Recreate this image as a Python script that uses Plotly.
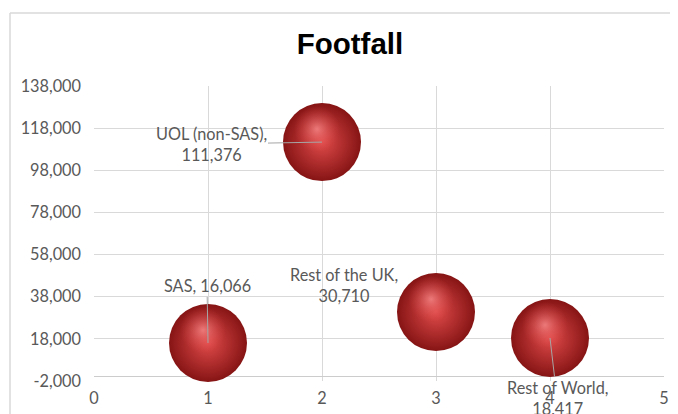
import plotly.graph_objects as go

# ---- data ----
categories = ["SAS", "UOL (non-SAS)", "Rest of the UK", "Rest of World"]
x_vals = [1, 2, 3, 4]
footfall = [16066, 111376, 30710, 18417]
label_lines = ["SAS, 16,066", "UOL (non-SAS),<br>111,376", "Rest of the UK,<br>30,710", "Rest of World,<br>18,417"]

y_tickvals = [-2000, 18000, 38000, 58000, 78000, 98000, 118000, 138000]
y_ticktext = ["-2,000", "18,000", "38,000", "58,000", "78,000", "98,000", "118,000", "138,000"]
x_tickvals = [0, 1, 2, 3, 4, 5]

# ---- layout geometry (page body has an 8px margin, so the figure is offset) ----
OFF = 8
W, H = 678 - OFF, 414 - OFF
ML, MR, MT, MB = 94 - OFF, 14, 86 - OFF, 33
plot_w = W - ML - MR
plot_h = H - MT - MB
x_range = [0, 5]
y_range = [-2000, 138000]
px_per_x = plot_w / (x_range[1] - x_range[0])
px_per_y = plot_h / (y_range[1] - y_range[0])

# highlight offset for the sphere look (in pixels -> data units)
hl_dx = -5 / px_per_x
hl_dy = 13 / px_per_y

fig = go.Figure()

# base sphere
fig.add_trace(go.Scatter(
    x=x_vals, y=footfall, mode="markers",
    marker=dict(size=78, color="#861414",
                gradient=dict(type="radial", color="#e04a4a"),
                line=dict(width=0)),
    cliponaxis=False, hoverinfo="skip", showlegend=False,
))
# specular highlight
fig.add_trace(go.Scatter(
    x=[v + hl_dx for v in x_vals], y=[v + hl_dy for v in footfall], mode="markers",
    marker=dict(size=46, color="rgba(225,75,75,0)",
                gradient=dict(type="radial", color="rgba(255,150,150,0.7)"),
                line=dict(width=0)),
    cliponaxis=False, hoverinfo="skip", showlegend=False,
))

label_font = dict(family="Lato, Carlito, Calibri, sans-serif", size=16.3, color="#595959")
arrow_common = dict(arrowhead=0, arrowwidth=1, arrowcolor="#a6a6a6", showarrow=True,
                    axref="pixel", ayref="pixel")

# SAS label (above, vertical leader line)
fig.add_annotation(x=x_vals[0], y=footfall[0], text=label_lines[0], ax=-1, ay=-57,
                   font=label_font, **arrow_common)
# UOL label (left, horizontal leader line)
fig.add_annotation(x=x_vals[1], y=footfall[1], text=label_lines[1], ax=-111, ay=2,
                   font=label_font, **arrow_common)
# Rest of the UK label (no leader line)
fig.add_annotation(x=x_vals[2], y=footfall[2], text=label_lines[2], showarrow=False,
                   xshift=-92, yshift=27, font=label_font)
# Rest of World label (below, slanted leader line)
fig.add_annotation(x=x_vals[3], y=footfall[3], text=label_lines[3], ax=7, ay=60,
                   font=label_font, **arrow_common)

# outer chart frame (left and top border)
frame_color = "#d9d9d9"
fx0 = (10 - OFF - ML) / plot_w
fy_top = (H - MB - (13 - OFF)) / plot_h
fig.add_shape(type="line", xref="paper", yref="paper", x0=fx0, x1=fx0, y0=fy_top, y1=-MB / plot_h - 0.1,
              line=dict(color=frame_color, width=1.5))
fig.add_shape(type="line", xref="paper", yref="paper", x0=fx0, x1=(W - ML) / plot_w + 0.1, y0=fy_top, y1=fy_top,
              line=dict(color=frame_color, width=1.5))

tick_font = dict(family="Lato, Carlito, Calibri, sans-serif", size=16.3, color="#595959")

fig.update_layout(
    width=W, height=H,
    margin=dict(l=ML, r=MR, t=MT, b=MB, pad=0, autoexpand=False),
    paper_bgcolor="white", plot_bgcolor="white",
    title=dict(text="<b>Footfall</b>", xref="container", yref="container",
               x=(350 - OFF) / W, y=1 - (44 - OFF) / H, xanchor="center", yanchor="middle",
               font=dict(family="Liberation Sans, Arial, sans-serif", size=29.5, color="#000000")),
    xaxis=dict(range=x_range, tickvals=x_tickvals, showgrid=True, gridcolor="#d9d9d9", gridwidth=1,
               zeroline=False, showline=False, tickfont=tick_font, ticks="",
               ticklabelstandoff=6, automargin=False, fixedrange=True),
    yaxis=dict(range=y_range, tickvals=y_tickvals, ticktext=y_ticktext, showgrid=True,
               gridcolor="#d9d9d9", gridwidth=1, zeroline=True, zerolinecolor="#cccccc",
               zerolinewidth=1.2, showline=False, tickfont=tick_font, ticks="",
               ticklabelstandoff=12, automargin=False, fixedrange=True),
    showlegend=False,
)

fig.write_html("out.html")
